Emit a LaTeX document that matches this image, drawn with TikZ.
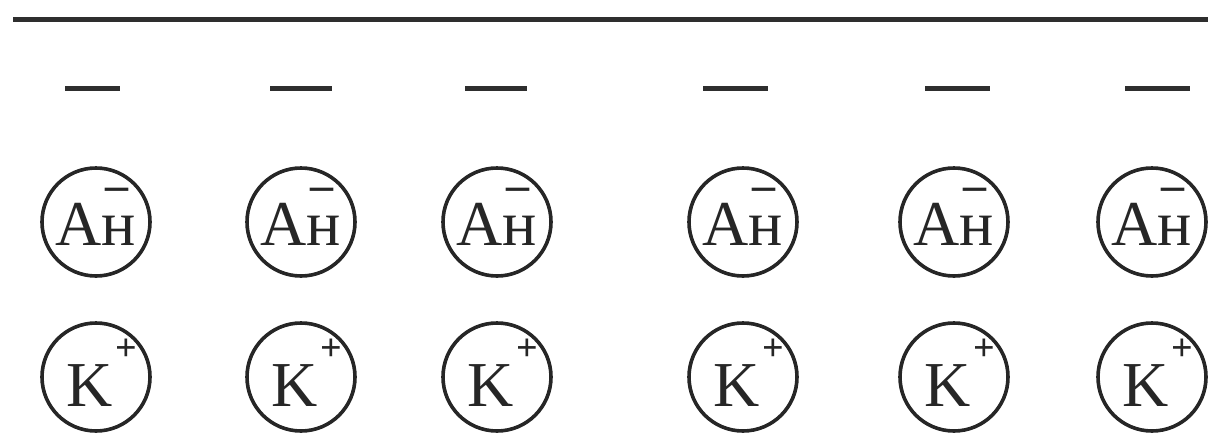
\documentclass[tikz,border=0pt]{standalone}
\usepackage{fontspec}
\setmainfont{Liberation Serif}
\newcommand{\anminus}{\llap{\smash{\raisebox{45pt}{\fontsize{46}{46}\bfseries –}}\kern8pt}}
\newcommand{\kplus}{\rlap{\kern2pt\smash{\raisebox{46pt}{\fontsize{38}{38}\bfseries +}}}}
\begin{document}
\begin{tikzpicture}[x=1pt,y=-1pt,
  ion/.style={circle,draw=black!85,line width=3.6pt,minimum size=108pt,inner sep=0pt,text=black!85,font=\fontsize{64}{64}\selectfont},
  sym/.style={inner sep=0pt,text=black!85,font=\fontsize{64}{64}\selectfont},
  bar/.style={line width=5pt,black!82}]
\useasboundingbox (0,0) rectangle (1211,434);
% top line
\draw[bar] (13,19) -- (1208,19);
% short dashes
\foreach \a/\b in {65/120,270/332,465/527,703/768,925/990,1125/1190}
  \draw[bar] (\a,88) -- (\b,88);
% anion and cation circles
\foreach \i/\x in {1/96,2/301,3/497,4/743,5/954,6/1152}{
  \node[ion] (a\i) at (\x,222) {};
  \node[sym] (t\i) at ([yshift=-2pt]a\i.center) {Ан\anminus};
  \node[ion] (k\i) at (\x,377) {};
  \node[sym] (s\i) at ([xshift=-6pt,yshift=-9pt]k\i.center) {K\kplus};
}
\end{tikzpicture}
\end{document}
